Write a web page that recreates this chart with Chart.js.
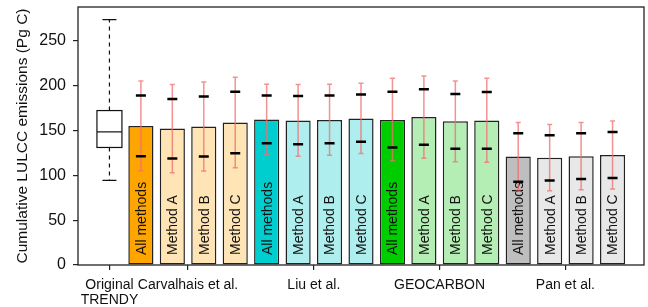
<!DOCTYPE html>
<html>
<head>
<meta charset="utf-8">
<script src="https://cdn.jsdelivr.net/npm/chart.js@4"></script>
<style>
  html, body { margin: 0; padding: 0; background: #fff; }
  #wrap { width: 648px; height: 307px; }
</style>
</head>
<body>
<div id="wrap"><canvas id="chart" width="648" height="307"></canvas></div>
<script>
// bar slots: 0 = Original TRENDY box, 1..16 = bars
const barLabels = [
  "All methods", "Method A", "Method B", "Method C",
  "All methods", "Method A", "Method B", "Method C",
  "All methods", "Method A", "Method B", "Method C",
  "All methods", "Method A", "Method B", "Method C",
];
const barValues = [155.3, 152.3, 154.6, 159.0, 162.5, 161.2, 162.0, 163.5, 162.0, 165.3, 160.5, 161.2, 121.1, 119.6, 121.5, 122.9];
const errHigh = [205.4, 201.4, 204.3, 209.5, 201.9, 201.4, 201.7, 202.9, 208.4, 211.0, 205.4, 208.4, 159.0, 156.8, 159.0, 160.8];
const errLow = [105.1, 102.9, 104.8, 108.5, 123.1, 121.5, 122.6, 124.5, 116.3, 119.3, 115.2, 114.8, 83.6, 82.8, 83.9, 84.7];
const markHigh = [189.1, 185.4, 188.0, 193.5, 189.3, 188.7, 189.1, 190.2, 193.5, 196.2, 191.0, 193.2, 147.1, 144.9, 147.1, 148.6];
const markLow = [121.5, 118.9, 121.1, 124.8, 135.8, 134.9, 136.0, 137.5, 131.2, 134.1, 129.7, 129.7, 93.0, 94.4, 95.9, 97.0];
const barColors = [
  "#FFA500", "#FFE4B5", "#FFE4B5", "#FFE4B5",
  "#00CDCD", "#AEEEEE", "#AEEEEE", "#AEEEEE",
  "#00CD00", "#B4EEB4", "#B4EEB4", "#B4EEB4",
  "#BEBEBE", "#E8E8E8", "#E8E8E8", "#E8E8E8",
];

// box plot of original TRENDY models: min, q1, median, q3, max
const trendyBox = [94.4, 131.2, 148.6, 172.4, 273.8];

// x tick positions and labels
const xTickPos = [0, 2.5, 6.5, 10.5, 14.5];
const xTickLabels = [["Original", "TRENDY"], "Carvalhais et al.", "Liu et al.", "GEOCARBON", "Pan et al."];
const yTicks = [0, 50, 100, 150, 200, 250];

const FONT = "'Liberation Sans', Arial, Helvetica, sans-serif";

const barPoints = barValues.map((v, i) => ({ x: i + 1, y: v }));

const extrasPlugin = {
  id: "extras",
  afterDatasetsDraw(chart) {
    const ctx = chart.ctx;
    const xs = chart.scales.x;
    const ys = chart.scales.y;
    const meta = chart.getDatasetMeta(0);
    const bottom = ys.getPixelForValue(0);

    // box plot
    ctx.save();
    const bx = xs.getPixelForValue(0);
    const halfW = 12.5;
    const [mn, q1, md, q3, mx] = trendyBox.map((v) => ys.getPixelForValue(v));
    ctx.strokeStyle = "#111";
    ctx.lineWidth = 1.2;
    ctx.setLineDash([4, 4]);
    ctx.beginPath();
    ctx.moveTo(bx, q3); ctx.lineTo(bx, mx);
    ctx.moveTo(bx, q1); ctx.lineTo(bx, mn);
    ctx.stroke();
    ctx.setLineDash([]);
    ctx.beginPath();
    ctx.moveTo(bx - 7, mx); ctx.lineTo(bx + 7, mx);
    ctx.moveTo(bx - 7, mn); ctx.lineTo(bx + 7, mn);
    ctx.stroke();
    ctx.fillStyle = "#fff";
    ctx.fillRect(bx - halfW, q3, 2 * halfW, q1 - q3);
    ctx.strokeRect(bx - halfW, q3, 2 * halfW, q1 - q3);
    ctx.beginPath();
    ctx.moveTo(bx - halfW, md); ctx.lineTo(bx + halfW, md);
    ctx.stroke();
    ctx.restore();

    // rotated labels inside bars
    ctx.save();
    ctx.fillStyle = "#111";
    ctx.font = "14px " + FONT;
    ctx.textAlign = "left";
    ctx.textBaseline = "middle";
    meta.data.forEach((bar, i) => {
      ctx.save();
      ctx.translate(bar.x + 1, bottom - 10);
      ctx.rotate(-Math.PI / 2);
      ctx.fillText(barLabels[i], 0, 0);
      ctx.restore();
    });
    ctx.restore();

    // error bars and black marks
    ctx.save();
    meta.data.forEach((bar, i) => {
      const x = bar.x;
      const hi = ys.getPixelForValue(errHigh[i]);
      const lo = ys.getPixelForValue(errLow[i]);
      ctx.strokeStyle = "rgba(240,110,110,0.75)";
      ctx.lineWidth = 1.5;
      ctx.beginPath();
      ctx.moveTo(x, hi); ctx.lineTo(x, lo);
      ctx.moveTo(x - 2.5, hi); ctx.lineTo(x + 2.5, hi);
      ctx.moveTo(x - 2.5, lo); ctx.lineTo(x + 2.5, lo);
      ctx.stroke();
      ctx.strokeStyle = "#000";
      ctx.lineWidth = 2.5;
      ctx.beginPath();
      [markHigh[i], markLow[i]].forEach((v) => {
        const y = ys.getPixelForValue(v);
        ctx.moveTo(x - 5, y); ctx.lineTo(x + 5, y);
      });
      ctx.stroke();
    });
    ctx.restore();

    // frame
    const a = chart.chartArea;
    ctx.save();
    ctx.strokeStyle = "#222";
    ctx.lineWidth = 1.3;
    ctx.strokeRect(a.left, a.top, a.right - a.left, a.bottom - a.top);
    ctx.restore();
  },
};

new Chart(document.getElementById("chart"), {
  type: "bar",
  data: {
    datasets: [
      {
        data: barPoints,
        backgroundColor: barColors,
        borderColor: "#222",
        borderWidth: 1.5,
        borderSkipped: false,
        categoryPercentage: 1,
        barPercentage: 0.8,
      },
    ],
  },
  options: {
    responsive: false,
    animation: false,
    devicePixelRatio: 1,
    layout: { padding: { top: 7, right: 4, left: 0, bottom: 0 } },
    plugins: { legend: { display: false }, tooltip: { enabled: false } },
    scales: {
      x: {
        type: "linear",
        min: -1,
        max: 17,
        offset: false,
        border: { display: false },
        grid: { offset: false, drawOnChartArea: false, drawTicks: true, tickLength: 5, color: "#222", lineWidth: 1.2 },
        afterBuildTicks: (scale) => {
          scale.ticks = xTickPos.map((v) => ({ value: v }));
        },
        afterFit: (scale) => {
          scale.height = 42;
          scale.paddingLeft = 0;
          scale.paddingRight = 0;
        },
        ticks: {
          autoSkip: false,
          maxRotation: 0,
          minRotation: 0,
          padding: 7,
          color: "#111",
          font: { family: FONT, size: 14, lineHeight: 1.1 },
          callback: (value, index) => xTickLabels[index],
        },
      },
      y: {
        min: 0,
        max: 288,
        border: { display: false },
        grid: { drawOnChartArea: false, drawTicks: true, tickLength: 5, color: "#222", lineWidth: 1.2 },
        afterBuildTicks: (scale) => {
          scale.ticks = yTicks.map((v) => ({ value: v }));
        },
        afterFit: (scale) => {
          scale.width = 78;
          scale.paddingTop = 0;
          scale.paddingBottom = 0;
        },
        ticks: {
          padding: 7,
          color: "#111",
          font: { family: FONT, size: 16 },
        },
        title: {
          display: true,
          text: "Cumulative LULCC emissions (Pg C)",
          color: "#111",
          font: { family: FONT, size: 15.5 },
          padding: { top: 13, bottom: 0 },
        },
      },
    },
  },
  plugins: [extrasPlugin],
});
</script>
</body>
</html>
